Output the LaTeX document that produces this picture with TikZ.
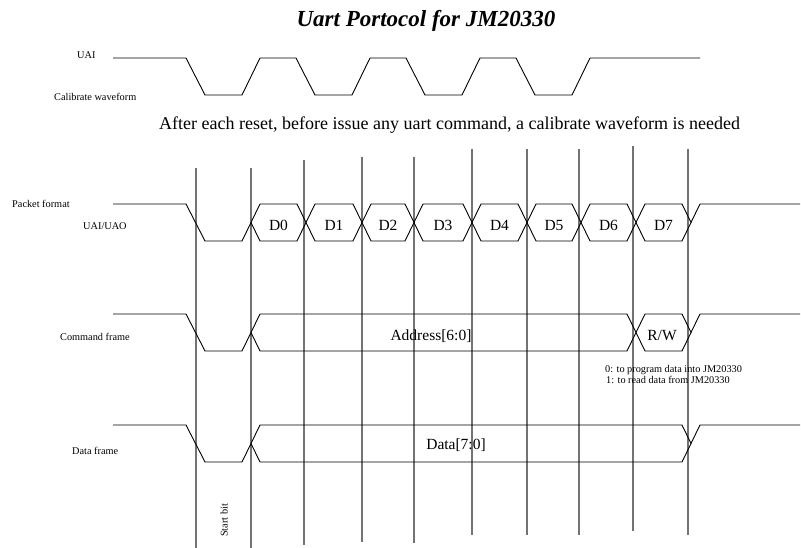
\documentclass[tikz,border=0pt]{standalone}
\usepackage{fontspec}
\setmainfont{Liberation Serif}
\newcommand{\sigsize}{\fontsize{10.3}{12}\selectfont}
\newcommand{\bitsize}{\fontsize{15.5}{18}\selectfont}
\begin{document}
\begin{tikzpicture}[x=1pt,y=-1pt,
  wave/.style={line width=0.9pt},
  bitline/.style={black!55, line width=1.4pt},
  sig/.style={font=\sigsize, inner sep=0pt, anchor=base west},
  bitlbl/.style={font=\bitsize, inner sep=0pt, anchor=base}]
\useasboundingbox (0,0) rectangle (801,548);

% bit boundaries
\foreach \x/\t/\b in {196/168/548, 251/168/548, 304/160/545, 362/157/542, 414/157/543,
                       472/149/535, 527/149/535, 579/149/535, 633/146/531, 688/149/535}
  \draw[bitline] (\x,\t) -- (\x,\b);

\node[font=\fontsize{23}{26}\selectfont\bfseries\itshape, inner sep=0pt, anchor=base]
  (title) at (426,27) {Uart Portocol for JM20330};

% calibrate waveform
\node[sig] (uai) at (77,58.5) {UAI};
\node[sig] (calib) at (54,101) {Calibrate waveform};
\draw[wave] (113,58) \foreach \k in {0,...,3}{
    -- ({186+110*\k},58) -- ({205+110*\k},95) -- ({242+110*\k},95) -- ({260+110*\k},58) }
  -- (700,58);
\node[font=\fontsize{18}{20}\selectfont, inner sep=0pt, anchor=base west] (reset) at (159,130)
  {After each reset, before issue any uart command, a calibrate waveform is needed};

% frames: start bit and stop
\foreach \r in {204,314,425}{
  \draw[wave] (113,\r) -- (186,\r) -- (205,\r+37) -- (242,\r+37) -- (251,\r+18.5);
  \draw[wave] (691,\r+18.5) -- (700,\r) -- (800,\r);
}

% packet format
\node[sig] (packet) at (12,208) {Packet format};
\node[sig] (uaio) at (83,230) {UAI/UAO};
\foreach \a/\b/\t in {251/306/D0, 306/362/D1, 362/414/D2, 414/472/D3,
                      472/527/D4, 527/581/D5, 581/636/D6, 636/691/D7}{
  \draw[wave] (\a,222.5) -- (\a+9,204) -- (\b-9,204) -- (\b,222.5) -- (\b-9,241) -- (\a+9,241) -- cycle;
  \node[bitlbl] (\t) at ({(\a+\b)/2},231) {\t};
}

% command frame
\node[sig] (cmd) at (60,340) {Command frame};
\foreach \a/\b in {251/636, 636/691}
  \draw[wave] (\a,332.5) -- (\a+9,314) -- (\b-9,314) -- (\b,332.5) -- (\b-9,351) -- (\a+9,351) -- cycle;
\node[bitlbl] (addr) at (431,340) {Address[6:0]};
\node[bitlbl] (rw) at (662,340) {R/W};
\node[sig] (rw0) at (605,372) {0: to program data into JM20330};
\node[sig] (rw1) at (606,383) {1: to read data from JM20330};

% data frame
\node[sig] (dataf) at (72,454) {Data frame};
\draw[wave] (251,443.5) -- (260,425) -- (682,425) -- (691,443.5) -- (682,462) -- (260,462) -- cycle;
\node[bitlbl] (data) at (456,449) {Data[7:0]};

\node[sig, rotate=90] (start) at (227.5,537) {Start bit};
\end{tikzpicture}
\end{document}
